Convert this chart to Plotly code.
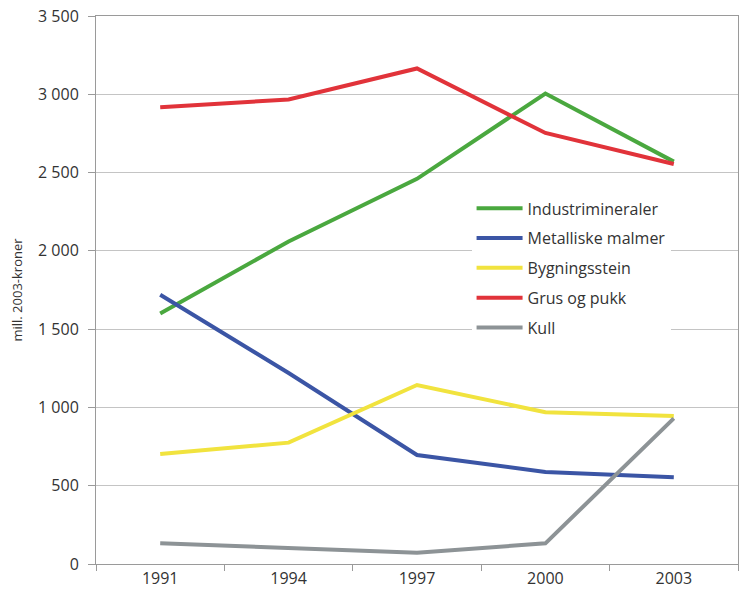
import plotly.graph_objects as go

years = ["1991", "1994", "1997", "2000", "2003"]
industrimineraler = [1600, 2060, 2460, 3005, 2570]
metalliske_malmer = [1720, 1220, 696, 588, 554]
bygningsstein = [703, 775, 1143, 969, 945]
grus_og_pukk = [2917, 2967, 3165, 2753, 2555]
kull = [132, 100, 72, 132, 930]

series_names = ["Industrimineraler", "Metalliske malmer", "Bygningsstein", "Grus og pukk", "Kull"]
series_values = [industrimineraler, metalliske_malmer, bygningsstein, grus_og_pukk, kull]
series_colors = ["#4aa83f", "#3b55a5", "#f1e33e", "#e1333a", "#8d9396"]

y_tickvals = [0, 500, 1000, 1500, 2000, 2500, 3000, 3500]
y_ticktext = ["0", "500", "1 000", "1 500", "2 000", "2 500", "3 000", "3 500"]

fig = go.Figure()
for name, vals, col in zip(series_names, series_values, series_colors):
    fig.add_trace(go.Scatter(
        x=years, y=vals, name=name, mode="lines", legendgroup=name,
        line=dict(color=col, width=4),
    ))

font_fam = "Open Sans, Noto Sans, sans-serif"
fig.update_layout(
    width=746, height=596,
    margin=dict(l=96, r=8, t=16, b=32),
    paper_bgcolor="white", plot_bgcolor="white",
    font=dict(family=font_fam, size=16, color="#333333"),
    showlegend=True,
    legend=dict(
        x=0.585, y=0.68, xanchor="left", yanchor="top",
        bgcolor="white", borderwidth=0,
        font=dict(family=font_fam, size=16, color="#333333"),
        traceorder="grouped", tracegroupgap=6,
        itemwidth=46,
    ),
    xaxis=dict(
        type="category", range=[-0.5, 4.5], automargin=False,
        showline=True, linecolor="#9a9a9a", linewidth=1, mirror=True,
        ticks="outside", tickson="boundaries", ticklen=6, tickcolor="#9a9a9a",
        showgrid=False, tickfont=dict(size=16),
    ),
    yaxis=dict(
        range=[0, 3500], tickvals=y_tickvals, ticktext=y_ticktext, automargin=False,
        showline=True, linecolor="#9a9a9a", linewidth=1, mirror=True,
        ticks="outside", ticklen=7, tickcolor="#9a9a9a",
        showgrid=True, gridcolor="#c4c4c4", gridwidth=1,
        zeroline=False, tickfont=dict(size=16),
        ticklabelstandoff=6, ticklabeloverflow="allow",
        title=dict(text="mill. 2003-kroner", font=dict(size=13, color="#333333"), standoff=12),
    ),
)
# remove the page's default 8px body margin so the figure fills the window
fig.write_html("out.html", config={"displayModeBar": False},
               post_script="document.body.style.margin='0';")
